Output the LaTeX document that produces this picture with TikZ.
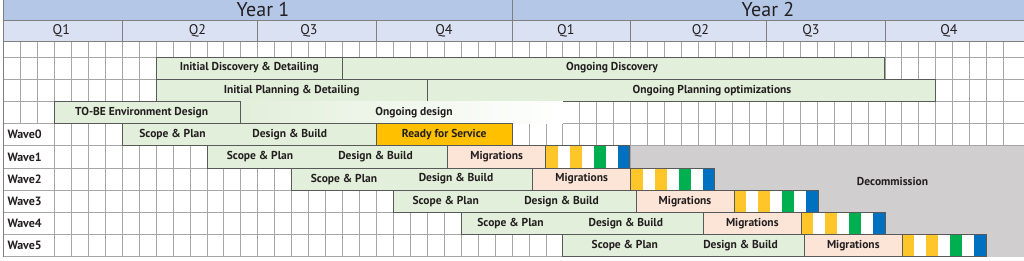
\documentclass[tikz,border=0pt]{standalone}
\usepackage{fontspec}
\setmainfont{PT Sans}
\definecolor{yearC}{HTML}{B4C7E7}
\definecolor{qC}{HTML}{DAE1F3}
\definecolor{gridC}{HTML}{A6A6A6}
\definecolor{hdrC}{HTML}{7F7F7F}
\definecolor{barB}{HTML}{595959}
\definecolor{greenC}{HTML}{E2EFDA}
\definecolor{pinkC}{HTML}{FCE4D6}
\definecolor{orangeC}{HTML}{FFC000}
\definecolor{grayC}{HTML}{D0CECE}
\definecolor{yelS}{HTML}{FFC629}
\definecolor{grnS}{HTML}{00B050}
\definecolor{bluS}{HTML}{0070C0}
\definecolor{txtC}{HTML}{231F20}
\tikzset{
  gridline/.style={draw=gridC, line width=0.8pt},
  hdrline/.style={draw=hdrC, line width=0.8pt},
  bar/.style={draw=barB, line width=0.9pt},
  lbl/.style={font=\bfseries\fontsize{11.5}{13}\selectfont, text=txtC, inner sep=0pt},
  wlbl/.style={font=\bfseries\fontsize{12}{14}\selectfont, text=txtC, inner sep=0pt, anchor=west},
  yearlbl/.style={font=\fontsize{20}{22}\selectfont, text=txtC, inner sep=0pt},
  qlbl/.style={font=\fontsize{14}{16}\selectfont, text=txtC, inner sep=0pt},
}
\newcommand\mywave[8]{%
  \draw[bar, fill=greenC] ({#3},{#2}) rectangle ({#4},{#2+22.2});
  \draw[bar, fill=pinkC] ({#4},{#2}) rectangle ({#5},{#2+22.2});
  \foreach \c [count=\i from 0] in {yelS,white,yelS,white,grnS,white,bluS}
    \fill[\c] ({#5+(#6-#5)/7*\i},{#2}) rectangle ({#5+(#6-#5)/7*(\i+1)},{#2+22.2});
  \draw[bar] ({#5},{#2}) rectangle ({#6},{#2+22.2});
  \node[lbl] (#1s) at ({#7},{#2+11.1}) {Scope \& Plan};
  \node[lbl] (#1d) at ({#8},{#2+11.1}) {Design \& Build};
  \node[lbl] (#1m) at ({(#4+#5)/2},{#2+11.1}) {Migrations};
}
\begin{document}
\begin{tikzpicture}[x=1pt,y=-1pt]
\useasboundingbox (0,0) rectangle (1024,260);
\fill[white] (0,0) rectangle (1024,260);
% header
\fill[yearC] (3.5,0) rectangle (1024,20);
\fill[qC] (3.5,20) rectangle (1024,41);
% grid
\foreach \k in {1,...,59}
  \draw[gridline] ({3.5+16.95*\k},41) -- ({3.5+16.95*\k},256.8);
\foreach \y in {57,79.2,101.4,123.6,145.8,168,190.2,212.4,234.6,256.8}
  \draw[gridline] (3.5,\y) -- (1024,\y);
\draw[hdrline] (3.5,20) -- (1024,20);
\draw[hdrline] (3.5,41) -- (1024,41);
\draw[hdrline] (512,0) -- (512,41);
\foreach \q in {7,15,22,37,45,52}
  \draw[hdrline] ({3.5+16.95*\q},20) -- ({3.5+16.95*\q},41);
\draw[hdrline] (3.5,0) -- (3.5,256.8);
\node[yearlbl] (year1) at (263,9.5) {Year 1};
\node[yearlbl] (year2) at (768,9.5) {Year 2};
\node[qlbl] (q1a) at (61.3,30.5) {Q1};
\node[qlbl] (q2a) at (197.5,30.5) {Q2};
\node[qlbl] (q3a) at (309,30.5) {Q3};
\node[qlbl] (q4a) at (444,30.5) {Q4};
\node[qlbl] (q1b) at (565.8,30.5) {Q1};
\node[qlbl] (q2b) at (700.5,30.5) {Q2};
\node[qlbl] (q3b) at (811,30.5) {Q3};
\node[qlbl] (q4b) at (949,30.5) {Q4};
% planning rows
\draw[bar, fill=greenC] (156.05,57) rectangle (342.5,79.2);
\draw[bar, fill=greenC] (342.5,57) rectangle (884.9,79.2);
\node[lbl] (idd) at (249.3,68.1) {Initial Discovery \& Detailing};
\node[lbl] (od) at (612,68.1) {Ongoing Discovery};
\draw[bar, fill=greenC] (156.05,79.2) rectangle (427.25,101.4);
\draw[bar, fill=greenC] (427.25,79.2) rectangle (935.75,101.4);
\node[lbl] (ipd) at (291.6,90.3) {Initial Planning \& Detailing};
\node[lbl] (opo) at (712,90.3) {Ongoing Planning optimizations};
\shade[left color=greenC, right color=white] (240.8,101.4) rectangle (562.85,123.6);
\draw[bar, fill=greenC] (54.35,101.4) rectangle (240.8,123.6);
\node[lbl] (tobe) at (141.7,112.5) {TO-BE Environment Design};
\node[lbl] (ogd) at (414,112.5) {Ongoing design};
% decommission area
\fill[grayC] (630.65,145.8) rectangle (1024,256.8);
\node[lbl] (decom) at (892.5,181) {Decommission};
% wave label cells
\fill[white] (3.5,123.6) rectangle (54.35,256.8);
\foreach \y in {123.6,145.8,168,190.2,212.4,234.6,256.8}
  \draw[gridline] (3.5,\y) -- (54.35,\y);
\draw[gridline] (54.35,123.6) -- (54.35,256.8);
\draw[hdrline] (3.5,123.6) -- (3.5,256.8);
\node[wlbl] (w0) at (7.3,134.7) {Wave0};
\node[wlbl] (w1) at (7.3,156.9) {Wave1};
\node[wlbl] (w2) at (7.3,179.1) {Wave2};
\node[wlbl] (w3) at (7.3,201.3) {Wave3};
\node[wlbl] (w4) at (7.3,223.5) {Wave4};
\node[wlbl] (w5) at (7.3,245.7) {Wave5};
% wave 0
\draw[bar, fill=greenC] (122.15,123.6) rectangle (376.4,145.8);
\draw[bar, fill=orangeC] (376.4,123.6) rectangle (512,145.8);
\node[lbl] (w0s) at (172.5,134.7) {Scope \& Plan};
\node[lbl] (w0d) at (289.7,134.7) {Design \& Build};
\node[lbl] (w0r) at (444.2,134.7) {Ready for Service};
% waves 1-5
\mywave{wa}{145.8}{207.2}{447.7}{545.7}{629.7}{260}{375.5}
\mywave{wb}{168}{291.8}{532.7}{630.7}{714.5}{344}{456}
\mywave{wc}{190.2}{393.4}{636}{734}{818}{445.7}{561.5}
\mywave{wd}{212.4}{461}{703.3}{801.3}{885}{510.5}{625.8}
\mywave{we}{234.6}{562.7}{804.3}{902.3}{986}{624.8}{740.5}
\end{tikzpicture}
\end{document}
